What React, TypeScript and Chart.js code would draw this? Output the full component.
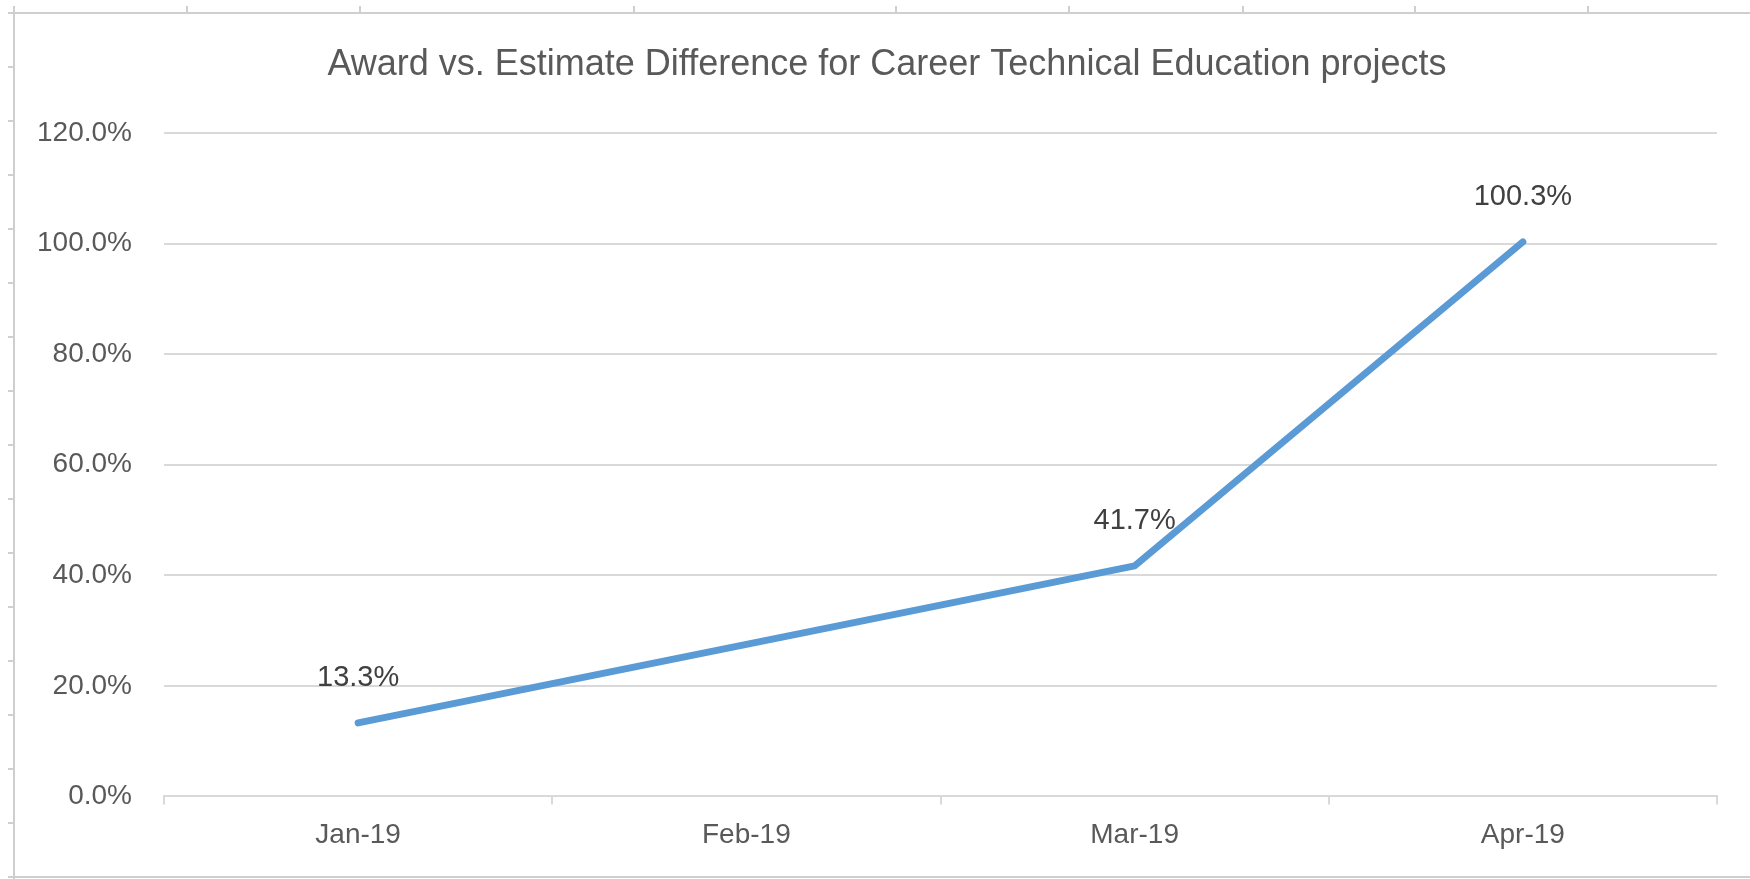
import React, { useEffect, useRef } from "react";
import { Chart, registerables } from "chart.js";

Chart.register(...registerables);

const categories = ["Jan-19", "Feb-19", "Mar-19", "Apr-19"];
const awardVsEstimate: (number | null)[] = [0.133, null, 0.417, 1.003];
const yTickValues = [0, 0.2, 0.4, 0.6, 0.8, 1.0, 1.2];
const chartTitle = "Award vs. Estimate Difference for Career Technical Education projects";

const FONT = "'Liberation Sans', Arial, sans-serif";
const pct = (v: number) => (v * 100).toFixed(1) + "%";

// spreadsheet cell grid peeking around the chart (decoration)
const sheetColumnTicks = [187, 360, 634, 896, 1069, 1243, 1415, 1588];
const sheetRowStart = 13;
const sheetRowStep = 54;

const sheetFrame = {
  id: "sheetFrame",
  beforeDraw(chart: any) {
    const ctx = chart.ctx;
    ctx.save();
    ctx.fillStyle = "#ffffff";
    ctx.fillRect(0, 0, chart.width, chart.height);
    ctx.strokeStyle = "#cfcfcf";
    ctx.lineWidth = 2;
    ctx.beginPath();
    ctx.moveTo(14, 6);
    ctx.lineTo(14, chart.height);
    ctx.moveTo(8, 13);
    ctx.lineTo(chart.width, 13);
    ctx.moveTo(14, chart.height - 2);
    ctx.lineTo(chart.width, chart.height - 2);
    for (const x of sheetColumnTicks) {
      ctx.moveTo(x, 6);
      ctx.lineTo(x, 13);
    }
    for (let y = sheetRowStart + sheetRowStep; y < chart.height; y += sheetRowStep) {
      ctx.moveTo(8, y);
      ctx.lineTo(14, y);
    }
    ctx.stroke();
    // chart title
    ctx.font = `36px ${FONT}`;
    ctx.fillStyle = "#595959";
    ctx.textAlign = "center";
    ctx.textBaseline = "middle";
    ctx.fillText(chartTitle, 887, 65);
    ctx.restore();
  },
};

const pointLabels = {
  id: "pointLabels",
  afterDatasetsDraw(chart: any) {
    const ctx = chart.ctx;
    const meta = chart.getDatasetMeta(0);
    const data = chart.data.datasets[0].data;
    ctx.save();
    ctx.font = `29px ${FONT}`;
    ctx.fillStyle = "#404040";
    ctx.textAlign = "center";
    ctx.textBaseline = "middle";
    meta.data.forEach((pt: any, i: number) => {
      const v = data[i];
      if (v === null || v === undefined) return;
      ctx.fillText(pct(v), pt.x, pt.y - 45);
    });
    ctx.restore();
  },
};

export default function App() {
  const ref = useRef<HTMLCanvasElement>(null);
  useEffect(() => {
    document.body.style.margin = "0";
    const chart = new Chart(ref.current!, {
      type: "line",
      data: {
        labels: categories,
        datasets: [
          {
            data: awardVsEstimate,
            borderColor: "#5B9BD5",
            borderWidth: 7,
            borderCapStyle: "round",
            borderJoinStyle: "round",
            pointRadius: 0,
            spanGaps: true,
            tension: 0,
            fill: false,
          },
        ],
      },
      options: {
        responsive: false,
        animation: false,
        layout: { padding: { left: 0, right: 33, top: 133, bottom: 13 } },
        plugins: {
          legend: { display: false },
          tooltip: { enabled: false },
          title: { display: false },
        },
        scales: {
          x: {
            offset: true,
            grid: {
              offset: true,
              drawOnChartArea: false,
              drawTicks: true,
              tickLength: 8,
              color: "#d9d9d9",
              lineWidth: 2,
            },
            border: { color: "#d9d9d9", width: 2 },
            ticks: {
              color: "#595959",
              font: { family: FONT, size: 28 },
              padding: 14,
              maxRotation: 0,
            },
          },
          y: {
            min: 0,
            max: 1.2,
            afterFit: (s: any) => {
              s.width = 164;
            },
            afterBuildTicks: (s: any) => {
              s.ticks = yTickValues.map((v) => ({ value: v }));
            },
            grid: { color: "#d9d9d9", lineWidth: 2, drawTicks: false },
            border: { display: false },
            ticks: {
              color: "#595959",
              font: { family: FONT, size: 28 },
              padding: 32,
              callback: (v: any) => pct(Number(v)),
            },
          },
        },
      },
      plugins: [sheetFrame, pointLabels],
    });
    return () => chart.destroy();
  }, []);
  return (
    <div style={{ position: "absolute", left: 0, top: 0, width: 1750, height: 879 }}>
      <canvas ref={ref} width={1750} height={879} />
    </div>
  );
}
